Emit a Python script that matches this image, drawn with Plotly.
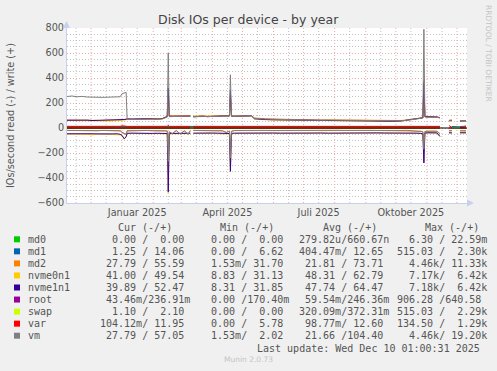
import plotly.graph_objects as go

# ---------------- data ----------------
dates = [
    "2024-11-07", "2024-11-12", "2024-11-17", "2024-11-22", "2024-11-27", "2024-12-02",
    "2024-12-07", "2024-12-12", "2024-12-17", "2024-12-22", "2024-12-27", "2024-12-30",
    "2025-01-01", "2025-01-03", "2025-01-05", "2025-01-06", "2025-01-11", "2025-01-16",
    "2025-01-21", "2025-01-26", "2025-01-31", "2025-02-05", "2025-02-10", "2025-02-13",
    "2025-02-15", "2025-02-16", "2025-02-17", "2025-02-20", "2025-02-24", "2025-02-28",
    "2025-03-04", "2025-03-08", "2025-03-10", "2025-03-11", "2025-03-13", "2025-03-17",
    "2025-03-22", "2025-03-27", "2025-04-01", "2025-04-06", "2025-04-11", "2025-04-15",
    "2025-04-18", "2025-04-19", "2025-04-20", "2025-04-23", "2025-04-29", "2025-05-05",
    "2025-05-10", "2025-05-13", "2025-05-17", "2025-05-24", "2025-05-31", "2025-06-08",
    "2025-06-16", "2025-06-24", "2025-07-02", "2025-07-10", "2025-07-18", "2025-07-26",
    "2025-08-03", "2025-08-11", "2025-08-19", "2025-08-27", "2025-09-04", "2025-09-12",
    "2025-09-20", "2025-09-28", "2025-10-06", "2025-10-12", "2025-10-17", "2025-10-22",
    "2025-10-26", "2025-10-28", "2025-10-29", "2025-10-30", "2025-11-02", "2025-11-07",
    "2025-11-11", "2025-11-14", "2025-11-16", "2025-11-23", "2025-11-26", "2025-11-28",
    "2025-12-04", "2025-12-07", "2025-12-10",
]
N = None

vm_write = [252, 256, 250, 253, 248, 250, 246, 245, 247, 246, 247, 250,
            275, 282, 285, 70, 68, 70, 68, 70, 72, 71, 73, 82,
            88, 600, 90, 92, 93, 95, 92, 94, 95, N, 90, 92,
            94, 91, 95, 94, 96, 97, 96, 426, 95, 94, 96, 95,
            98, 78, 74, 72, 70, 68, 66, 65, 66, 64, 62, 63,
            62, 60, 61, 58, 57, 58, 56, 57, 58, 62, 68, 72,
            76, 80, 790, 88, 86, 88, 85, 82, N, 60, 62, N,
            58, 60, 58]
vm_read = [-19, -20, -19, -18, -20, -19, -21, -19, -20, -19, -20, -22,
           -35, -45, -50, -22, -20, -19, -20, -19, -21, -20, -19, -22,
           -24, -267, -30, -45, -20, -48, -22, -50, -20, N, -19, -20,
           -19, -21, -19, -20, -22, -35, -24, -238, -26, -20, -19, -20,
           -19, -22, -20, -19, -20, -19, -20, -19, -18, -19, -20, -19,
           -18, -19, -20, -19, -18, -19, -20, -19, -20, -19, -21, -22,
           -24, -30, -170, -28, -25, -24, -26, -45, N, -22, -21, N,
           -22, -21, -22]

md2_write = [64, 63, 62, 64, 62, 61, 63, 60, 62, 61, 60, 62,
             66, 68, 70, 72, 70, 72, 70, 72, 74, 73, 76, 88,
             96, 300, 100, 98, 97, 99, 96, 98, 99, N, 94, 96,
             98, 95, 99, 98, 100, 101, 99, 250, 98, 96, 98, 97,
             100, 80, 76, 74, 72, 70, 68, 67, 68, 66, 64, 65,
             64, 62, 63, 60, 59, 60, 58, 59, 60, 64, 72, 76,
             80, 84, 380, 92, 90, 92, 88, 84, N, 62, 64, N,
             60, 62, 60]
md2_read = [-20, -21, -20, -19, -21, -20, -22, -20, -21, -20, -21, -23,
            -36, -46, -52, -23, -21, -20, -21, -20, -22, -21, -20, -23,
            -25, -200, -31, -46, -21, -49, -23, -51, -21, N, -20, -21,
            -20, -22, -20, -21, -23, -36, -25, -180, -27, -21, -20, -21,
            -20, -23, -21, -20, -21, -20, -21, -20, -19, -20, -21, -20,
            -19, -20, -21, -20, -19, -20, -21, -20, -21, -20, -22, -23,
            -25, -31, -140, -29, -26, -25, -27, -46, N, -23, -22, N,
            -23, -22, -23]

nvme0_write = [60, 59, 58, 60, 59, 58, 57, 58, 56, 57, 58, 60,
               63, 64, 66, 70, 68, 70, 69, 70, 71, 70, 72, 82,
               90, 280, 94, 92, 93, 94, 91, 93, 94, N, 89, 91,
               93, 90, 94, 93, 95, 96, 95, 280, 94, 93, 95, 94,
               96, 72, 68, 66, 64, 63, 61, 60, 61, 59, 57, 58,
               57, 55, 56, 53, 52, 53, 51, 52, 54, 60, 66, 70,
               74, 80, 330, 90, 88, 90, 86, 80, N, 56, 58, N,
               54, 56, 55]
nvme0_read = [-50, -48, -52, -49, -50, -55, -48, -50, -49, -52, -50, -55,
              -62, -90, -72, -45, -44, -46, -44, -45, -46, -44, -46, -45,
              -47, -520, -50, -46, -45, -47, -44, -46, -45, N, -44, -43,
              -44, -45, -43, -44, -46, -50, -47, -340, -46, -44, -43, -44,
              -43, -45, -44, -43, -42, -43, -42, -43, -42, -41, -42, -43,
              -42, -41, -42, -41, -40, -41, -42, -41, -42, -41, -42, -43,
              -45, -48, -270, -42, -40, -39, -41, -70, N, -40, -41, N,
              -40, -39, -40]

nvme1_write = [62, 63, 61, 62, 63, 60, 61, 62, 60, 61, 62, 63,
               66, 68, 70, 73, 72, 74, 72, 73, 74, 72, 75, 85,
               92, 320, 95, 93, 94, 95, 92, 94, 95, N, 90, 92,
               94, 91, 95, 94, 96, 97, 96, 300, 95, 94, 96, 95,
               97, 74, 70, 68, 66, 65, 63, 62, 63, 61, 59, 60,
               59, 57, 58, 55, 54, 55, 53, 54, 56, 62, 68, 72,
               76, 82, 362, 92, 90, 92, 88, 82, N, 58, 60, N,
               56, 58, 57]
nvme1_read = [-46, -45, -47, -46, -45, -46, -47, -45, -46, -47, -46, -50,
              -60, -86, -70, -42, -41, -43, -42, -41, -43, -42, -41, -42,
              -44, -510, -46, -43, -42, -44, -41, -43, -42, N, -41, -40,
              -41, -42, -40, -41, -43, -46, -44, -347, -43, -41, -40, -41,
              -40, -42, -41, -40, -40, -41, -40, -40, -40, -39, -40, -41,
              -40, -39, -40, -39, -38, -39, -40, -39, -40, -39, -40, -41,
              -43, -46, -280, -40, -38, -37, -39, -67, N, -38, -39, N,
              -38, -37, -38]

var_write = [12.6, 12.5, 12.7, 12.6, 12.5, 12.6, 12.7, 12.6, 12.5, 12.6, 12.7, 13,
             18, 14, 13, 12.6, 12.5, 12.6, 12.7, 12.6, 12.5, 12.6, 12.7, 12.6,
             13, 22, 13, 12.6, 12.5, 12.6, 12.7, 12.6, 12.5, N, 12.6, 12.7,
             12.6, 12.5, 12.6, 12.7, 12.6, 12.5, 13, 18, 13, 12.6, 12.5, 12.6,
             12.7, 12.6, 12.5, 12.6, 12.7, 12.6, 12.5, 12.6, 12.7, 12.6, 12.5, 12.6,
             12.7, 12.6, 12.5, 12.6, 12.7, 12.6, 12.5, 12.6, 12.7, 12.6, 12.5, 12.6,
             12.7, 13, 16, 13, 12.6, 12.5, 12.6, 12.7, N, 20, 5, N,
             8, 6, 12]
var_read = [
    -0.1, -0.1, -0.1, -0.1, -0.1, -0.1, -0.1, -0.1, -0.1, -0.1, -0.1, -0.1,
    -0.3, -0.2, -0.1, -0.1, -0.1, -0.1, -0.1, -0.1, -0.1, -0.1, -0.1, -0.1,
    -0.1, -0.5, -0.1, -0.1, -0.1, -0.1, -0.1, -0.1, -0.1, N, -0.1, -0.1,
    -0.1, -0.1, -0.1, -0.1, -0.1, -0.1, -0.1, -0.4, -0.1, -0.1, -0.1, -0.1,
    -0.1, -0.1, -0.1, -0.1, -0.1, -0.1, -0.1, -0.1, -0.1, -0.1, -0.1, -0.1,
    -0.1, -0.1, -0.1, -0.1, -0.1, -0.1, -0.1, -0.1, -0.1, -0.1, -0.1, -0.1,
    -0.1, -0.1, -0.3, -0.1, -0.1, -0.1, -0.1, -0.1, N, -0.1, -0.1, N,
    -0.1, -0.1, -0.1]

# small devices (own sparse dates)
small_dates = ["2024-11-07", "2025-03-10", "2025-03-13", "2025-11-14", "2025-11-23",
               "2025-11-26", "2025-12-04", "2025-12-10"]
md0_write = [0, 0, 0, 0, N, 0, 0, 0]
md0_read = [0, 0, 0, 0, N, 0, 0, 0]
md1_write = [12.6, 12.6, 12.6, 12.7, N, 12, 10, 16]
md1_read = [-0.4, -0.4, -0.4, -0.4, N, -0.4, -0.4, -1.2]
root_write = [0.25, 0.25, 0.25, 0.25, N, 0.25, 0.24, 0.24]
root_read = [-0.06, -0.06, -0.06, -0.06, N, -0.05, -0.04, -0.04]
swap_write = [0.37, 0.37, 0.37, 0.37, N, 2.1, 2.1, 2.1]
swap_read = [-0.32, -0.32, -0.32, -0.32, N, -1.1, -1.1, -1.1]

names = ["md0", "md1", "md2", "nvme0n1", "nvme1n1", "root", "swap", "var", "vm"]
colors = ["#00CC00", "#0066B3", "#FF8000", "#FFCC00", "#330099",
          "#990099", "#CCFF00", "#FF0000", "#808080"]
cur_col = ["  0.00 /  0.00 ", "  1.25 / 14.06 ", " 27.79 / 55.59 ", " 41.00 / 49.54 ",
           " 39.89 / 52.47 ", " 43.46m/236.91m", "  1.10 /  2.10 ", "104.12m/ 11.95 ",
           " 27.79 / 57.05 "]
min_col = ["  0.00 /  0.00 ", "  0.00 /  6.62 ", "  1.53m/ 31.70 ", "  8.83 / 31.13 ",
           "  8.31 / 31.85 ", "  0.00 /170.40m", "  0.00 /  0.00 ", "  0.00 /  5.78 ",
           "  1.53m/  2.02 "]
avg_col = ["279.82u/660.67n", "404.47m/ 12.65 ", " 21.81 / 73.71 ", " 48.31 / 62.79 ",
           " 47.74 / 64.47 ", " 59.54m/246.36m", "320.09m/372.31m", " 98.77m/ 12.60 ",
           " 21.66 /104.40 "]
max_col = ["  6.30 / 22.59m", "515.03 /  2.30k", "  4.46k/ 11.33k", "  7.17k/  6.42k",
           "  7.18k/  6.42k", "906.28 /640.58 ", "515.03 /  2.29k", "134.50 /  1.29k",
           "  4.46k/ 19.20k"]
headers = ["Cur (-/+)", "Min (-/+)", "Avg (-/+)", "Max (-/+)"]

month_starts = ["2024-12-01", "2025-01-01", "2025-02-01", "2025-03-01", "2025-04-01",
                "2025-05-01", "2025-06-01", "2025-07-01", "2025-08-01", "2025-09-01",
                "2025-10-01", "2025-11-01", "2025-12-01"]
mid_months = ["2024-11-16", "2024-12-16", "2025-01-16", "2025-02-16", "2025-03-16",
              "2025-04-16", "2025-05-16", "2025-06-16", "2025-07-16", "2025-08-16",
              "2025-09-16", "2025-10-16", "2025-11-16"]
tick_vals = ["2025-01-16", "2025-04-16", "2025-07-16", "2025-10-16"]
tick_text = ["Januar 2025", "April 2025", "Juli 2025", "Oktober 2025"]

# ---------------- figure ----------------
W, H = 497, 371
L, T, PW, PH = 67, 28, 400, 175


def px(x):
    return (x - L) / PW


def py(y):
    return (T + PH - y) / PH


series = {
    "md0": (small_dates, md0_write, md0_read),
    "md1": (small_dates, md1_write, md1_read),
    "md2": (dates, md2_write, md2_read),
    "nvme0n1": (dates, nvme0_write, nvme0_read),
    "nvme1n1": (dates, nvme1_write, nvme1_read),
    "root": (small_dates, root_write, root_read),
    "swap": (small_dates, swap_write, swap_read),
    "var": (dates, var_write, var_read),
    "vm": (dates, vm_write, vm_read),
}

fig = go.Figure()
for name, color in zip(names, colors):
    d, w, r = series[name]
    for vals in (r, w):
        fig.add_trace(go.Scatter(x=d, y=vals, mode="lines", line=dict(color=color, width=1),
                                 connectgaps=False, showlegend=False, hoverinfo="skip"))

major_c = "rgba(232,140,140,0.75)"
minor_c = "rgba(180,180,180,0.8)"
grid_dash = "1px,2px"

shapes = []
for m in mid_months:
    shapes.append(dict(type="line", xref="x", yref="paper", x0=m, x1=m, y0=0, y1=1,
                       line=dict(color=minor_c, width=1, dash=grid_dash), layer="below"))
for m in month_starts:
    shapes.append(dict(type="line", xref="x", yref="paper", x0=m, x1=m, y0=0, y1=1,
                       line=dict(color=major_c, width=1, dash=grid_dash), layer="below"))
# zero rule
shapes.append(dict(type="line", xref="paper", yref="y", x0=0, x1=1, y0=0, y1=0,
                   line=dict(color="#000000", width=1), layer="above"))
# axis arrows
axc = "#C8D0F0"
shapes.append(dict(type="path", xref="paper", yref="paper",
                   path=f"M {px(63)} {py(28)} L {px(70)} {py(28)} L {px(66.5)} {py(21)} Z",
                   fillcolor=axc, line=dict(width=0)))
shapes.append(dict(type="path", xref="paper", yref="paper",
                   path=f"M {px(467)} {py(199.5)} L {px(467)} {py(206.5)} L {px(474)} {py(203)} Z",
                   fillcolor=axc, line=dict(width=0)))

# legend squares
row_y = [239.3 + 12.05 * i for i in range(9)]
for c, yy in zip(colors, row_y):
    shapes.append(dict(type="rect", xref="paper", yref="paper",
                       x0=px(14), x1=px(20), y0=py(yy + 3), y1=py(yy - 3),
                       fillcolor=c, line=dict(width=0)))

mono = "DejaVu Sans Mono"
txtc = "#555555"
ann = []


def nb(s):
    return s.replace(" ", "\u00a0")


hdr_x = [116, 218, 321, 423]
for h, hx in zip(headers, hdr_x):
    ann.append(dict(x=px(hx), y=py(227.7), xref="paper", yref="paper", text=nb(h),
                    showarrow=False, xanchor="left", yanchor="middle",
                    font=dict(family=mono, size=10, color=txtc)))
col_x = [98, 197, 296.5, 395]
for i, yy in enumerate(row_y):
    ann.append(dict(x=px(26), y=py(yy), xref="paper", yref="paper", text=names[i],
                    showarrow=False, xanchor="left", yanchor="middle",
                    font=dict(family=mono, size=10, color=txtc)))
    for col, cx in zip((cur_col, min_col, avg_col, max_col), col_x):
        ann.append(dict(x=px(cx), y=py(yy), xref="paper", yref="paper", text=nb(col[i]),
                        showarrow=False, xanchor="left", yanchor="middle",
                        font=dict(family=mono, size=10, color=txtc)))
ann.append(dict(x=px(482), y=py(348.3), xref="paper", yref="paper",
                text=nb("Last update: Wed Dec 10 01:00:31 2025"), showarrow=False,
                xanchor="right", yanchor="middle", font=dict(family=mono, size=10, color=txtc)))
ann.append(dict(x=px(248), y=py(359.5), xref="paper", yref="paper", text="Munin 2.0.73",
                showarrow=False, xanchor="center", yanchor="middle",
                font=dict(family="DejaVu Sans", size=7.5, color="#C4C4C4")))
ann.append(dict(x=px(489), y=py(53), xref="paper", yref="paper",
                text="RRDTOOL / TOBI OETIKER", textangle=90, showarrow=False,
                xanchor="center", yanchor="middle",
                font=dict(family="DejaVu Sans", size=7.5, color="#C4C4C4")))
ann.append(dict(x=px(248), y=py(19.5), xref="paper", yref="paper",
                text="Disk IOs per device - by year", showarrow=False,
                xanchor="center", yanchor="middle",
                font=dict(family="DejaVu Sans", size=12.5, color="#444444")))
ann.append(dict(x=px(10), y=py(116), xref="paper", yref="paper",
                text="IOs/second read (-) / write (+)", textangle=-90, showarrow=False,
                xanchor="center", yanchor="middle",
                font=dict(family="DejaVu Sans", size=9.7, color=txtc)))

fig.update_layout(
    width=W, height=H, autosize=False,
    margin=dict(l=L, r=W - L - PW, t=T, b=H - T - PH, pad=0),
    paper_bgcolor="#F0F0F0", plot_bgcolor="#FFFFFF",
    showlegend=False, shapes=shapes, annotations=ann,
    font=dict(family="DejaVu Sans", size=9.7, color=txtc),
    xaxis=dict(type="date", range=["2024-11-07", "2025-12-11"], tickmode="array",
               tickvals=tick_vals, ticktext=tick_text, showgrid=False, zeroline=False,
               showline=True, linecolor=axc, linewidth=1, ticks="", ticklen=0,
               tickfont=dict(family="DejaVu Sans", size=9.7, color=txtc)),
    yaxis=dict(range=[-600, 800], tickmode="linear", tick0=0, dtick=200,
               showgrid=True, gridcolor=major_c, griddash=grid_dash,
               gridwidth=1, zeroline=False, showline=True, linecolor=axc, linewidth=1,
               ticks="", tickfont=dict(family="DejaVu Sans", size=9.7, color=txtc),
               minor=dict(dtick=50, tick0=0, showgrid=True,
                          gridcolor=minor_c, griddash=grid_dash, gridwidth=1)),
)

fig.write_html("out.html")
